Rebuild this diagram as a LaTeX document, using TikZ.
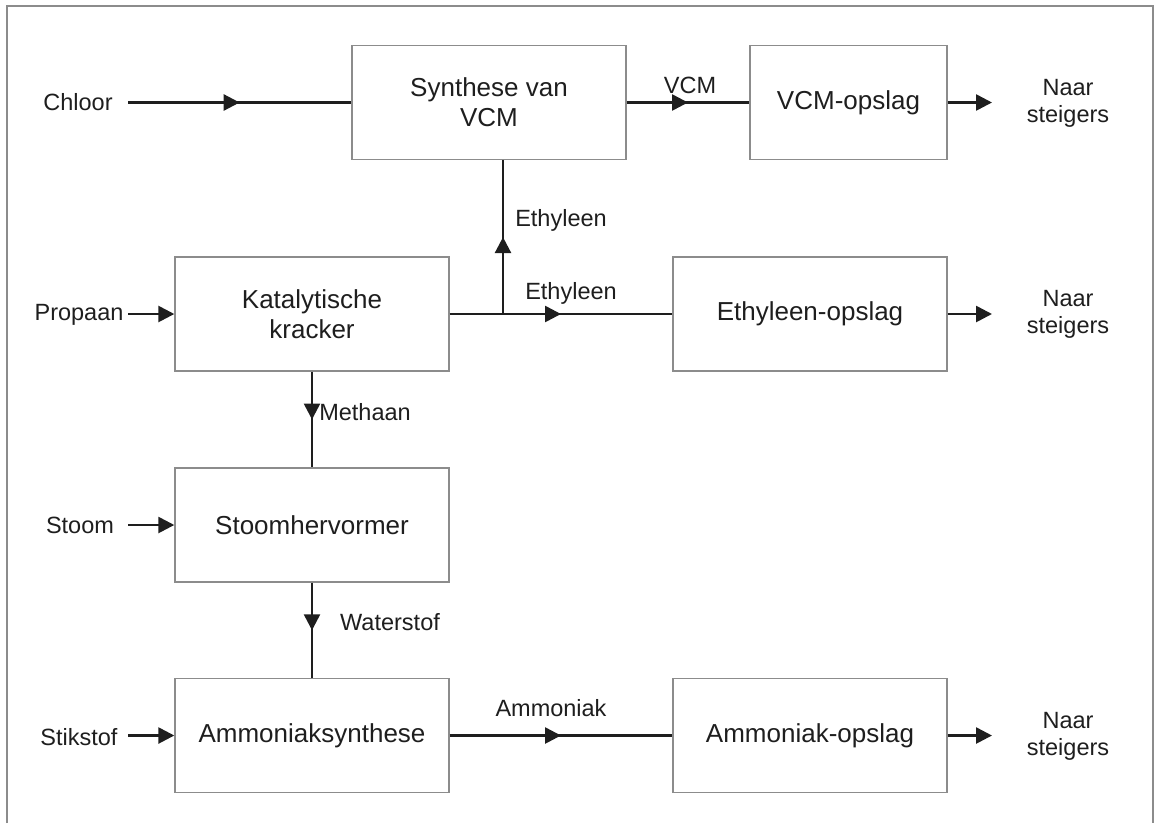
\documentclass[tikz,border=0pt]{standalone}
\usepackage{fontspec}
\setmainfont{Liberation Sans}
\usetikzlibrary{arrows.meta,decorations.markings}
\definecolor{ink}{HTML}{1E1E1E}
\definecolor{frame}{HTML}{8C8C8C}
\tikzset{
  x=1pt, y=-1pt,
  procbox/.style={draw=frame, line width=1.4pt, minimum width=274pt, minimum height=114pt,
    inner sep=0pt, align=center, font=\fontsize{26}{30}\selectfont, text=ink},
  lbl/.style={inner sep=0pt, align=center, font=\fontsize{23.5}{27}\selectfont, text=ink},
  flow/.style={draw=ink, line width=2.6pt},
  endarrow/.style={flow, -{Triangle[length=16pt,width=16pt]}},
  midarrow/.style={flow, postaction={decorate}, decoration={markings,
    mark=at position 0.5 with {\arrow[ink]{Triangle[length=16pt,width=16pt]}}}},
}
\begin{document}
\begin{tikzpicture}
\useasboundingbox (0,0) rectangle (1155,823);
\draw[frame, line width=1.4pt] (7,823) -- (7,6) -- (1153,6) -- (1153,823);

% boxes
\node[procbox] (syn) at (489,102.5) {Synthese van\\VCM};
\node[procbox, minimum width=197pt] (vcmop) at (848.5,102.5) {VCM-opslag};
\node[procbox] (krak) at (312,314) {Katalytische\\kracker};
\node[procbox] (ethop) at (810,314) {Ethyleen-opslag};
\node[procbox] (stoom) at (312,525) {Stoomhervormer};
\node[procbox] (amsyn) at (312,735.5) {Ammoniaksynthese};
\node[procbox] (amop) at (810,735.5) {Ammoniak-opslag};

% input labels
\node[lbl] (chloor) at (78,102) {Chloor};
\node[lbl] (propaan) at (79,315) {Propaan};
\node[lbl] (stoomin) at (80,525) {Stoom};
\node[lbl] (stikstof) at (79,737) {Stikstof};

\coordinate (chin) at (128,102.5);
\coordinate (prin) at (128,314);
\coordinate (stin) at (128,525);
\coordinate (skin) at (128,735.5);

% output labels
\node[lbl] (out1) at (1068,103.5) {Naar\\steigers};
\node[lbl] (out2) at (1068,314.5) {Naar\\steigers};
\node[lbl] (out3) at (1068,736.5) {Naar\\steigers};
\coordinate (o1) at (992,102.5);
\coordinate (o2) at (992,314);
\coordinate (o3) at (992,735.5);

% branch
\coordinate (br) at (503,314);

% connectors
\draw[midarrow] (chin) -- (syn.west);
\draw[endarrow] (prin) -- (krak.west);
\draw[endarrow] (stin) -- (stoom.west);
\draw[endarrow] (skin) -- (amsyn.west);

\draw[midarrow] (syn.east) -- (vcmop.west);
\draw[midarrow] (krak.east) -- (ethop.west);
\draw[midarrow] (br) -- (br |- syn.south);
\draw[midarrow] (krak.south) -- (stoom.north);
\draw[midarrow] (stoom.south) -- (amsyn.north);
\draw[midarrow] (amsyn.east) -- (amop.west);

\draw[endarrow] (vcmop.east) -- (o1);
\draw[endarrow] (ethop.east) -- (o2);
\draw[endarrow] (amop.east) -- (o3);

% flow labels
\node[lbl] (lvcm) at (690,85) {VCM};
\node[lbl] (leth1) at (561,220) {Ethyleen};
\node[lbl] (leth2) at (571,293) {Ethyleen};
\node[lbl] (lmeth) at (365,412) {Methaan};
\node[lbl] (lwat) at (390,622) {Waterstof};
\node[lbl] (lamm) at (551,708) {Ammoniak};
\end{tikzpicture}
\end{document}
